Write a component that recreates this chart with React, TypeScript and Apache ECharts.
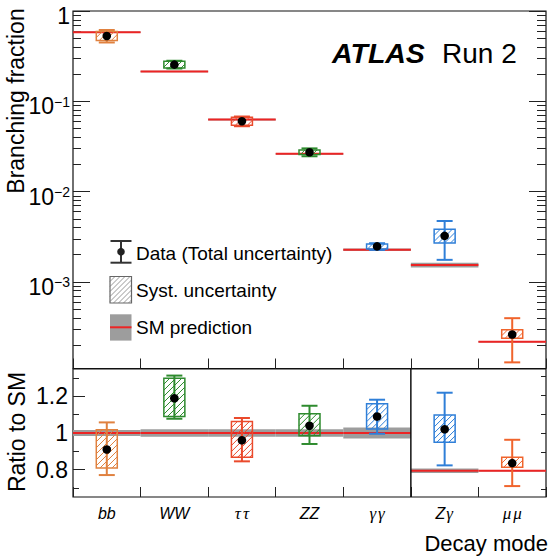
import React, { useEffect, useRef } from 'react';
import * as echarts from 'echarts';

const categories = ['bb', 'WW', 'ττ', 'ZZ', 'γγ', 'Zγ', 'μμ'];
// SM branching fractions and their relative uncertainty
const smBR = [0.582, 0.214, 0.0627, 0.0262, 0.00227, 0.00154, 0.000218];
const smRelUnc = [0.017, 0.02, 0.02, 0.02, 0.03, 0.06, 0.02];
// measured ratio to SM (central, total and systematic intervals)
const ratioCentral = [0.91, 1.19, 0.96, 1.04, 1.09, 2.1, 1.2];
const ratioTotLo = [0.77, 1.078, 0.845, 0.94, 0.996, 1.14, 0.59];
const ratioTotHi = [1.058, 1.314, 1.082, 1.149, 1.182, 3.07, 1.82];
const ratioSysLo = [0.809, 1.09, 0.867, 0.985, 1.022, 1.755, 1.09];
const ratioSysHi = [1.018, 1.3, 1.063, 1.105, 1.16, 2.48, 1.356];
const modeColors = ['#e0813f', '#2e8b2e', '#ea4a2c', '#2e8b2e', '#2f7fd8', '#2f7fd8', '#f0642c'];
const leftSection = [0, 1, 2, 3, 4];
const rightSection = [5, 6];

const brMajorTicks = [0.001, 0.01, 0.1, 1];
const brMinorTicks = [
  0.0002, 0.0003, 0.0004, 0.0005, 0.0006, 0.0007, 0.0008, 0.0009,
  0.002, 0.003, 0.004, 0.005, 0.006, 0.007, 0.008, 0.009,
  0.02, 0.03, 0.04, 0.05, 0.06, 0.07, 0.08, 0.09,
  0.2, 0.3, 0.4, 0.5, 0.6, 0.7, 0.8, 0.9,
];
const ratioMajorTicks = [0.8, 1, 1.2];
const ratioMinorTicks = [0.7, 0.9, 1.1, 1.3];
const ratioRightTicks = [0.5, 1, 1.5, 2, 2.5, 3, 3.5];

const FONT = "'Liberation Sans', Arial, Helvetica, sans-serif";
const SERIF = "'Liberation Serif', 'DejaVu Serif', serif";
const RED = '#ec2424';
const BAND = '#9d9d9d';
const AXC = '#222';

function hatch(x0: number, y0: number, x1: number, y1: number, s: number, stroke: string, lw = 1) {
  const out: any[] = [];
  for (let c = x0 + y0 + s; c < x1 + y1; c += s) {
    const xa = Math.max(x0, c - y1);
    const xb = Math.min(x1, c - y0);
    if (xb > xa) {
      out.push({ type: 'line', shape: { x1: xa, y1: c - xa, x2: xb, y2: c - xb }, style: { stroke, lineWidth: lw } });
    }
  }
  return out;
}

function smRender(divider: boolean) {
  return (params: any, api: any) => {
    const i = api.value(0);
    const cs = params.coordSys;
    const w = cs.width / categories.length;
    const p = api.coord([i, api.value(1)]);
    const yLo = api.coord([i, api.value(2)])[1];
    const yHi = api.coord([i, api.value(3)])[1];
    const x0 = p[0] - w / 2;
    const children: any[] = [
      { type: 'rect', shape: { x: x0, y: yHi, width: w, height: Math.max(yLo - yHi, 0.5) }, style: { fill: BAND } },
      { type: 'line', shape: { x1: x0, y1: p[1], x2: x0 + w, y2: p[1] }, style: { stroke: RED, lineWidth: 2 } },
    ];
    if (divider && i === rightSection[0]) {
      children.push({ type: 'line', shape: { x1: x0, y1: cs.y, x2: x0, y2: cs.y + cs.height }, style: { stroke: '#111', lineWidth: 1.5 } });
    }
    return { type: 'group', children };
  };
}

function dataRender(params: any, api: any) {
  const i = api.value(0);
  const p = api.coord([i, api.value(1)]);
  const yTL = api.coord([i, api.value(2)])[1];
  const yTH = api.coord([i, api.value(3)])[1];
  const ySL = api.coord([i, api.value(4)])[1];
  const ySH = api.coord([i, api.value(5)])[1];
  const color = modeColors[i];
  const bw = 21;
  const cw = 16;
  const bx0 = p[0] - bw / 2;
  const children: any[] = [
    ...hatch(bx0, ySH, bx0 + bw, ySL, 6, color, 1),
    { type: 'rect', shape: { x: bx0, y: ySH, width: bw, height: ySL - ySH }, style: { fill: 'none', stroke: color, lineWidth: 1.5 } },
    { type: 'line', shape: { x1: p[0], y1: yTH, x2: p[0], y2: yTL }, style: { stroke: color, lineWidth: 2 } },
    { type: 'line', shape: { x1: p[0] - cw / 2, y1: yTH, x2: p[0] + cw / 2, y2: yTH }, style: { stroke: color, lineWidth: 2 } },
    { type: 'line', shape: { x1: p[0] - cw / 2, y1: yTL, x2: p[0] + cw / 2, y2: yTL }, style: { stroke: color, lineWidth: 2 } },
    { type: 'circle', shape: { cx: p[0], cy: p[1], r: 4.3 }, style: { fill: '#000' } },
  ];
  return { type: 'group', children };
}

function brLabel(v: number) {
  if (v > 0.5) return '1';
  const e = Math.round(Math.log10(v));
  return `{a|10}{b|−${-e}}`;
}

function catLabel(s: string) {
  return Array.from(s)
    .map((ch) => (/[\u0370-\u03ff]/.test(ch) ? `{g|${ch}}` : `{l|${ch}}`))
    .join('');
}

function buildOption() {
  const topSM = categories.map((_, i) => [i, smBR[i], smBR[i] * (1 - smRelUnc[i]), smBR[i] * (1 + smRelUnc[i])]);
  const topData = categories.map((_, i) => [
    i,
    ratioCentral[i] * smBR[i],
    ratioTotLo[i] * smBR[i],
    ratioTotHi[i] * smBR[i],
    ratioSysLo[i] * smBR[i],
    ratioSysHi[i] * smBR[i],
  ]);
  const ratioSM = (idx: number[]) => idx.map((i) => [i, 1, 1 - smRelUnc[i], 1 + smRelUnc[i]]);
  const ratioData = (idx: number[]) =>
    idx.map((i) => [i, ratioCentral[i], ratioTotLo[i], ratioTotHi[i], ratioSysLo[i], ratioSysHi[i]]);

  const tickStyle = { color: AXC, width: 1 };
  const logAxis = (position: string, ticks: number[], len: number, labels: boolean) => ({
    type: 'log',
    logBase: 10,
    gridIndex: 0,
    position,
    min: 0.00011,
    max: 1,
    axisLine: { show: false },
    splitLine: { show: false },
    minorTick: { show: false },
    axisTick: { show: true, inside: true, length: len, customValues: ticks, lineStyle: tickStyle },
    axisLabel: labels
      ? {
          show: true,
          customValues: ticks,
          formatter: brLabel,
          margin: 3,
          padding: [10, 0, 0, 0],
          color: '#000',
          fontSize: 23,
          fontFamily: FONT,
          rich: {
            a: { fontSize: 23, fontFamily: FONT, color: '#000' },
            b: { fontSize: 14, fontFamily: FONT, color: '#000', verticalAlign: 'top' },
          },
        }
      : { show: false },
  });
  const linAxis = (position: string, min: number, max: number, ticks: number[], len: number, labels: boolean) => ({
    type: 'value',
    gridIndex: 1,
    position,
    min,
    max,
    axisLine: { show: false },
    splitLine: { show: false },
    axisTick: { show: true, inside: true, length: len, customValues: ticks, lineStyle: tickStyle },
    axisLabel: labels
      ? {
          show: true,
          customValues: ticks,
          formatter: (v: number) => (Math.abs(v - 1) < 1e-9 ? '1' : v.toFixed(1)),
          margin: 5,
          color: '#000',
          fontSize: 23,
          fontFamily: FONT,
        }
      : { show: false },
  });

  const legendHatchBox = { x: 110, y: 276.5, w: 21.5, h: 26.5 };

  return {
    animation: false,
    textStyle: { fontFamily: FONT },
    grid: [
      { left: 73, top: 11, width: 473, height: 357.5, show: true, borderColor: '#111', borderWidth: 1.2, backgroundColor: 'transparent' },
      { left: 73, top: 369, width: 473, height: 128, show: true, borderColor: '#111', borderWidth: 1.2, backgroundColor: 'transparent' },
    ],
    xAxis: [
      {
        type: 'category',
        gridIndex: 0,
        data: categories,
        axisLine: { show: false },
        axisTick: { show: true, inside: true, length: 10, interval: 0, lineStyle: tickStyle },
        axisLabel: { show: false },
        splitLine: { show: false },
      },
      {
        type: 'category',
        gridIndex: 1,
        data: categories,
        axisLine: { show: false },
        axisTick: { show: true, inside: true, length: 10, interval: 0, lineStyle: tickStyle },
        axisLabel: {
          show: true,
          interval: 0,
          margin: 8,
          fontSize: 16,
          fontStyle: 'italic',
          color: '#000',
          fontFamily: FONT,
          formatter: catLabel,
          rich: {
            l: { fontSize: 16, fontStyle: 'italic', fontFamily: FONT, color: '#000' },
            g: { fontSize: 17, fontStyle: 'italic', fontFamily: SERIF, color: '#000', padding: [0, 1, 0, 1] },
          },
        },
        splitLine: { show: false },
      },
    ],
    yAxis: [
      logAxis('left', brMajorTicks, 17, true),
      logAxis('left', brMinorTicks, 8, false),
      logAxis('right', brMajorTicks, 17, false),
      logAxis('right', brMinorTicks, 9, false),
      linAxis('left', 0.65, 1.35, ratioMajorTicks, 12, true),
      linAxis('left', 0.65, 1.35, ratioMinorTicks, 6, false),
      linAxis('right', 0.3, 3.7, ratioRightTicks, 5, false),
    ],
    series: [
      { type: 'custom', name: 'SM', xAxisIndex: 0, yAxisIndex: 0, renderItem: smRender(false), data: topSM, z: 1 },
      { type: 'custom', name: 'Data', xAxisIndex: 0, yAxisIndex: 0, renderItem: dataRender, data: topData, z: 2 },
      { type: 'custom', name: 'SM ratio L', xAxisIndex: 1, yAxisIndex: 4, renderItem: smRender(false), data: ratioSM(leftSection), z: 1 },
      { type: 'custom', name: 'SM ratio R', xAxisIndex: 1, yAxisIndex: 6, renderItem: smRender(true), data: ratioSM(rightSection), z: 1 },
      { type: 'custom', name: 'Ratio L', xAxisIndex: 1, yAxisIndex: 4, renderItem: dataRender, data: ratioData(leftSection), z: 2 },
      { type: 'custom', name: 'Ratio R', xAxisIndex: 1, yAxisIndex: 6, renderItem: dataRender, data: ratioData(rightSection), z: 2 },
    ],
    graphic: [
      { type: 'text', x: 332, y: 53, style: { text: 'ATLAS', fontSize: 28.5, fontWeight: 'bold', fontStyle: 'italic', fontFamily: FONT, fill: '#000', textAlign: 'left', textVerticalAlign: 'middle', align: 'left', verticalAlign: 'middle' } },
      { type: 'text', x: 442, y: 53, style: { text: 'Run 2', fontSize: 28, fontFamily: FONT, fill: '#000', textAlign: 'left', textVerticalAlign: 'middle', align: 'left', verticalAlign: 'middle' } },
      { type: 'text', x: 16, y: 101, rotation: Math.PI / 2, style: { text: 'Branching fraction', fontSize: 23, fontFamily: FONT, fill: '#000', textAlign: 'center', textVerticalAlign: 'middle', align: 'center', verticalAlign: 'middle' } },
      { type: 'text', x: 17, y: 432, rotation: Math.PI / 2, style: { text: 'Ratio to SM', fontSize: 23, fontFamily: FONT, fill: '#000', textAlign: 'center', textVerticalAlign: 'middle', align: 'center', verticalAlign: 'middle' } },
      { type: 'text', x: 548, y: 543, style: { text: 'Decay mode', fontSize: 22, fontFamily: FONT, fill: '#000', textAlign: 'right', textVerticalAlign: 'middle', align: 'right', verticalAlign: 'middle' } },
      // legend: data
      { type: 'line', shape: { x1: 121, y1: 241, x2: 121, y2: 262.7 }, style: { stroke: '#333', lineWidth: 2 } },
      { type: 'line', shape: { x1: 110.5, y1: 241, x2: 131.5, y2: 241 }, style: { stroke: '#333', lineWidth: 2 } },
      { type: 'line', shape: { x1: 110.5, y1: 262.7, x2: 131.5, y2: 262.7 }, style: { stroke: '#333', lineWidth: 2 } },
      { type: 'circle', shape: { cx: 121, cy: 251.7, r: 3.8 }, style: { fill: '#222' } },
      { type: 'text', x: 136, y: 253, style: { text: 'Data (Total uncertainty)', fontSize: 19, fontFamily: FONT, fill: '#000', textAlign: 'left', textVerticalAlign: 'middle', align: 'left', verticalAlign: 'middle' } },
      // legend: syst
      ...hatch(legendHatchBox.x, legendHatchBox.y, legendHatchBox.x + legendHatchBox.w, legendHatchBox.y + legendHatchBox.h, 5, '#999', 1),
      { type: 'rect', shape: { x: legendHatchBox.x, y: legendHatchBox.y, width: legendHatchBox.w, height: legendHatchBox.h }, style: { fill: 'none', stroke: '#666', lineWidth: 1.2 } },
      { type: 'text', x: 136, y: 290, style: { text: 'Syst. uncertainty', fontSize: 19, fontFamily: FONT, fill: '#000', textAlign: 'left', textVerticalAlign: 'middle', align: 'left', verticalAlign: 'middle' } },
      // legend: SM
      { type: 'rect', shape: { x: 110, y: 314.3, width: 21.5, height: 26.3 }, style: { fill: BAND } },
      { type: 'line', shape: { x1: 110, y1: 327.3, x2: 131.5, y2: 327.3 }, style: { stroke: RED, lineWidth: 2 } },
      { type: 'text', x: 136, y: 327.5, style: { text: 'SM prediction', fontSize: 19, fontFamily: FONT, fill: '#000', textAlign: 'left', textVerticalAlign: 'middle', align: 'left', verticalAlign: 'middle' } },
    ],
  };
}

export default function App() {
  const ref = useRef<HTMLDivElement>(null);
  useEffect(() => {
    if (!ref.current) return;
    const chart = echarts.init(ref.current, undefined, { renderer: 'svg', width: 551, height: 556 });
    chart.setOption(buildOption() as any);
    return () => chart.dispose();
  }, []);
  return (
    <div
      ref={ref}
      style={{ position: 'absolute', left: 0, top: 0, width: 551, height: 556, background: '#fff' }}
    />
  );
}
